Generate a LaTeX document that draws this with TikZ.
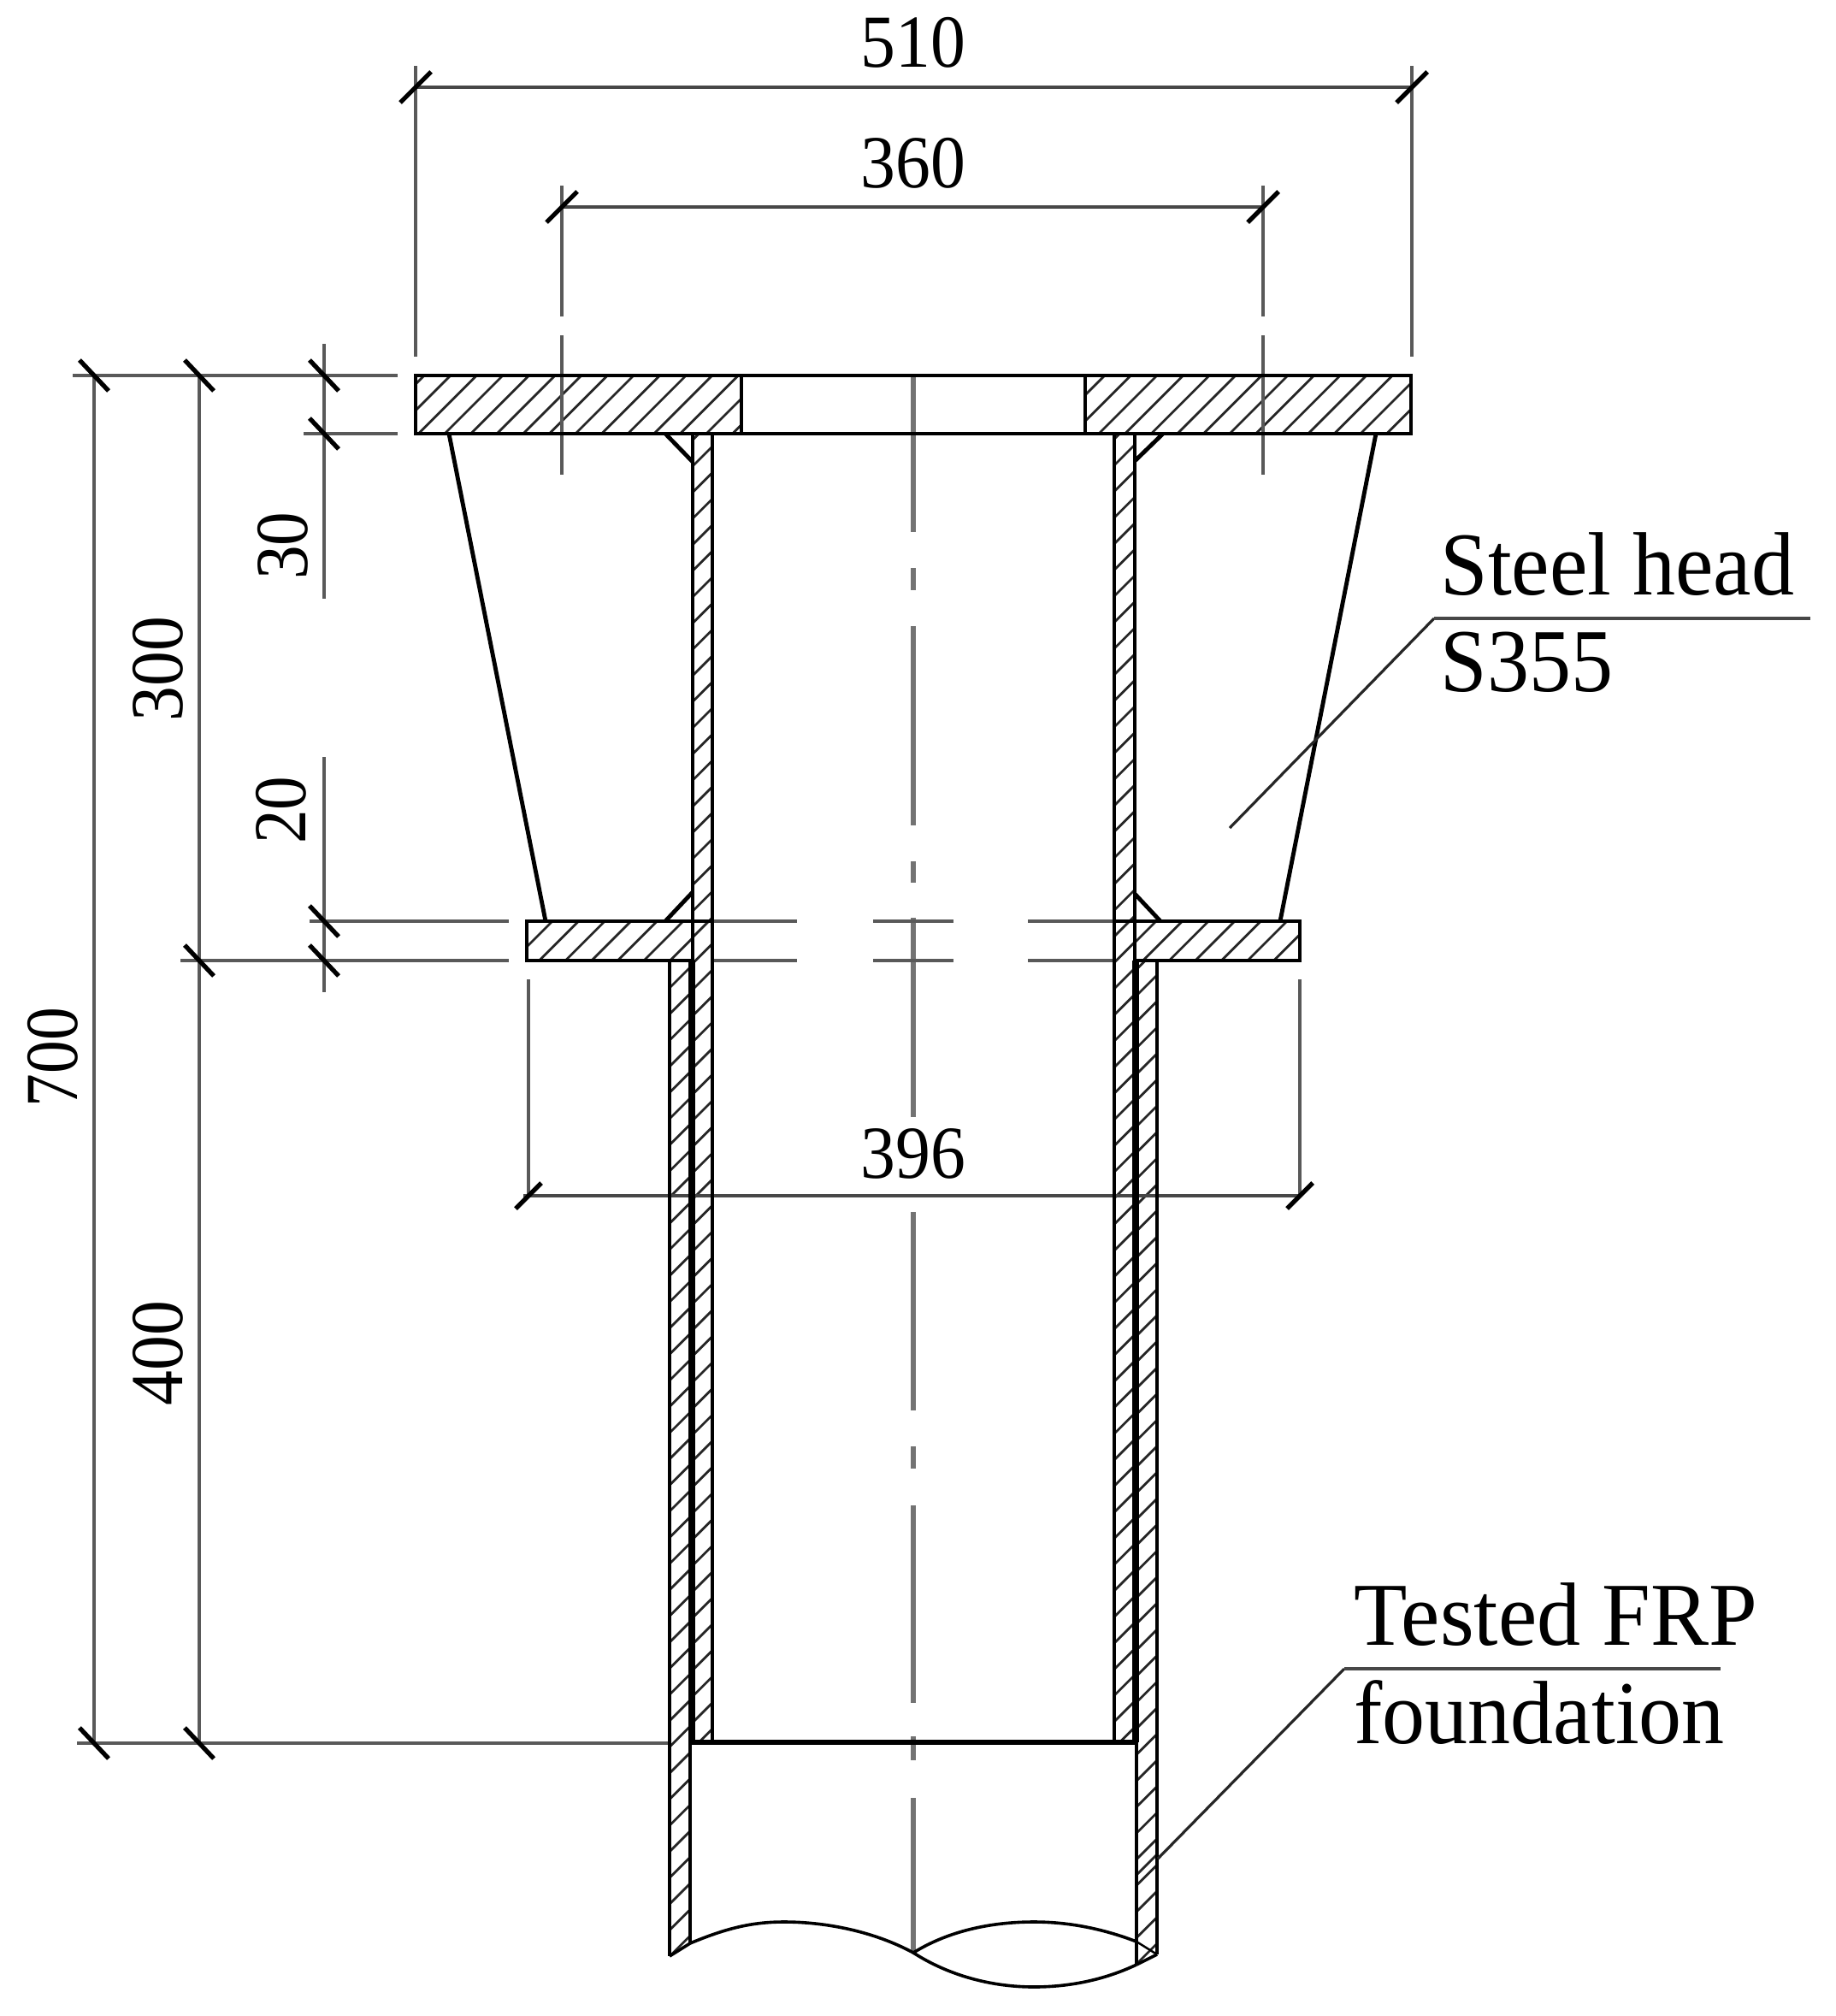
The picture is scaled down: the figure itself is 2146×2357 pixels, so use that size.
\documentclass[tikz,border=0pt]{standalone}
\usepackage{graphicx}
\usepackage{fontspec}
\setmainfont{Liberation Serif}
\tikzset{
  mainline/.style={line width=1.75pt,black},
  thinmain/.style={line width=1.3pt,black},
  hatchline/.style={line width=1pt,black!85},
  dimline/.style={line width=1.5pt,black!72},
  extline/.style={line width=1.5pt,black!65},
  centerln/.style={line width=2.2pt,black!55},
  tickmark/.style={line width=1.9pt,black},
  leader/.style={line width=1.15pt,black!85},
  dimtext/.style={inner sep=0pt,font=\fontsize{30}{30}\selectfont},
  labeltext/.style={inner sep=0pt,anchor=base west,font=\fontsize{36}{36}\selectfont},
}
\newcommand{\hatchfill}[2]{%
  \begin{scope}
    \clip #1;
    \foreach \k in {-35,...,60} {
      \pgfmathsetmacro{\cval}{#2+30.6*\k}
      \draw[hatchline] ({\cval-300},300) -- ({\cval-2400},2400);
    }
  \end{scope}}
\newcommand{\tickat}[2]{\draw[tickmark] (#1-17,#2-18) -- (#1+17,#2+18);}
\newcommand{\rtickat}[3]{\draw[tickmark] (#1+#3,#2-#3) -- (#1-#3,#2+#3);}
\begin{document}
\begin{tikzpicture}[x=0.36pt,y=-0.36pt]
\useasboundingbox (0,0) rectangle (2146,2357);
\fill[white] (0,0) rectangle (2146,2357);

% hatching
\hatchfill{(486,439) rectangle (867,507)}{1027}
\hatchfill{(1269,439) rectangle (1650,507)}{1792}
\hatchfill{(616,1077) rectangle (810,1123)}{1723}
\hatchfill{(1327,1077) rectangle (1520,1123)}{2429}
\hatchfill{(810,507) rectangle (833,2037)}{1355}
\hatchfill{(1303,507) rectangle (1327,2037)}{2306}
\hatchfill{(783,1123) -- (807,1123) -- (807,2272) -- (783,2287) -- cycle}{1938}
\hatchfill{(1329,1123) -- (1353,1123) -- (1353,2285) -- (1329,2297) -- cycle}{2493}
\begin{scope}
  \clip (1329,2100) rectangle (1353,2300);
  \draw[hatchline] (1353,2168) -- (1329,2192);
\end{scope}

% centre line
\draw[centerln] (1068,439) -- (1068,622);
\draw[centerln] (1068,664) -- (1068,690);
\draw[centerln] (1068,732) -- (1068,965);
\draw[centerln] (1068,1007) -- (1068,1032);
\draw[centerln] (1068,1073) -- (1068,1306);
\draw[centerln] (1068,1417) -- (1068,1649);
\draw[centerln] (1068,1691) -- (1068,1717);
\draw[centerln] (1068,1760) -- (1068,1991);
\draw[centerln] (1068,2030) -- (1068,2058);
\draw[centerln] (1068,2102) -- (1068,2283);

% bolt axes and extension lines
\draw[extline] (486,77) -- (486,417);
\draw[extline] (1651,77) -- (1651,417);
\draw[extline] (657,217) -- (657,370);
\draw[extline] (657,392) -- (657,555);
\draw[extline] (1477,217) -- (1477,370);
\draw[extline] (1477,392) -- (1477,555);
\draw[extline] (618,1145) -- (618,1398);
\draw[extline] (1520,1145) -- (1520,1398);

% horizontal extension lines
\draw[extline] (85,439) -- (465,439);
\draw[extline] (355,507) -- (465,507);
\draw[extline] (362,1077) -- (595,1077);
\draw[extline] (211,1123) -- (595,1123);
\foreach \yy in {1077,1123} {
  \draw[extline] (833,\yy) -- (932,\yy);
  \draw[extline] (1021,\yy) -- (1115,\yy);
  \draw[extline] (1202,\yy) -- (1302,\yy);
}
\draw[extline] (90,2038) -- (783,2038);

% vertical dimension lines
\draw[extline] (110,439) -- (110,2038);
\draw[extline] (233,439) -- (233,2038);
\draw[extline] (379,402) -- (379,700);
\draw[extline] (379,885) -- (379,1160);

% horizontal dimension lines
\draw[dimline] (486,102) -- (1651,102);
\draw[dimline] (657,242) -- (1477,242);
\draw[dimline] (612,1398) -- (1520,1398);

% ticks
\rtickat{486}{102}{18}
\rtickat{1651}{102}{18}
\rtickat{657}{242}{18}
\rtickat{1477}{242}{18}
\rtickat{618}{1398}{15}
\rtickat{1520}{1398}{15}
\tickat{110}{439}
\tickat{233}{439}
\tickat{379}{439}
\tickat{379}{507}
\tickat{379}{1077}
\tickat{379}{1123}
\tickat{233}{1123}
\tickat{110}{2038}
\tickat{233}{2038}

% top flange
\draw[mainline] (486,439) rectangle (1650,507);
\draw[mainline] (867,439) -- (867,507);
\draw[mainline] (1269,439) -- (1269,507);

% tapered head
\draw[mainline] (525,507) -- (638,1077);
\draw[mainline] (1609,507) -- (1497,1077);

% steel tube
\draw[mainline] (810,507) -- (810,1123);
\draw[mainline] (833,507) -- (833,2037);
\draw[mainline] (1303,507) -- (1303,2037);
\draw[mainline] (1327,507) -- (1327,1123);

% welds
\draw[mainline] (778,507) -- (810,540);
\draw[mainline] (1360,507) -- (1327,539);
\draw[mainline] (778,1077) -- (810,1043);
\draw[mainline] (1357,1077) -- (1327,1045);

% lower flange
\draw[mainline] (616,1077) rectangle (810,1123);
\draw[mainline] (1327,1077) rectangle (1520,1123);
\draw[thinmain] (810,1077) -- (833,1077);
\draw[thinmain] (1303,1077) -- (1327,1077);

% FRP tube
\draw[line width=2.6pt,black] (809,1123) -- (809,2037);
\draw[line width=2.6pt,black] (1328,1123) -- (1328,2037);
\draw[mainline] (783,1123) -- (783,2287);
\draw[thinmain] (783,2287) -- (807,2272);
\draw[mainline] (807,2272) -- (807,2037);
\draw[mainline] (1353,1123) -- (1353,2285);
\draw[thinmain] (1353,2285) -- (1329,2297);
\draw[mainline] (1329,2297) -- (1329,2037);
\draw[line width=2pt,black] (807,2037) -- (1329,2037);

% tube cut curves
\draw[thinmain] (807,2272) .. controls (850,2254) and (880,2247) .. (917,2247)
  .. controls (963,2247) and (1020,2257) .. (1068,2283)
  .. controls (1110,2257) and (1160,2247) .. (1209,2247)
  .. controls (1255,2247) and (1295,2257) .. (1329,2270);
\draw[line width=0.9pt,black] (1329,2270) -- (1353,2285);
\draw[thinmain] (1068,2283) .. controls (1110,2310) and (1160,2323) .. (1209,2323)
  .. controls (1255,2323) and (1295,2313) .. (1329,2297);

% leaders
\coordinate (sa) at (1438,968);
\coordinate (sb) at (1677,723);
\coordinate (sc) at (2117,723);
\draw[leader] (sa) -- (sb);
\draw[dimline] (sb) -- (sc);
\coordinate (fa) at (1354,2173);
\coordinate (fb) at (1572,1951);
\coordinate (fc) at (2012,1951);
\draw[leader] (fa) -- (fb);
\draw[dimline] (fb) -- (fc);

% dimension texts
\node[dimtext] (d510) at (1068,50) {\scalebox{0.98}[1.05]{510}};
\node[dimtext] (d360) at (1068,191) {\scalebox{0.98}[1.05]{360}};
\node[dimtext] (d396) at (1068,1349) {\scalebox{0.98}[1.05]{396}};
\node[dimtext,rotate=90] (d30) at (331,638) {\scalebox{0.95}[1.05]{30}};
\node[dimtext,rotate=90] (d20) at (329,947) {\scalebox{0.95}[1.05]{20}};
\node[dimtext,rotate=90] (d300) at (185,782) {\scalebox{0.98}[1.05]{300}};
\node[dimtext,rotate=90] (d400) at (185,1582) {\scalebox{0.98}[1.05]{400}};
\node[dimtext,rotate=90] (d700) at (62,1236) {\scalebox{0.93}[1.05]{700}};

% labels
\node[labeltext] (lab1) at (1684,695) {\scalebox{1}[1.05]{Steel head}};
\node[labeltext] (lab2) at (1684,808) {\scalebox{0.98}[1.05]{S355}};
\node[labeltext] (lab3) at (1583,1923) {\scalebox{1.02}[1.05]{Tested FRP}};
\node[labeltext] (lab4) at (1583,2038) {\scalebox{1}[1.05]{foundation}};
\end{tikzpicture}
\end{document}
